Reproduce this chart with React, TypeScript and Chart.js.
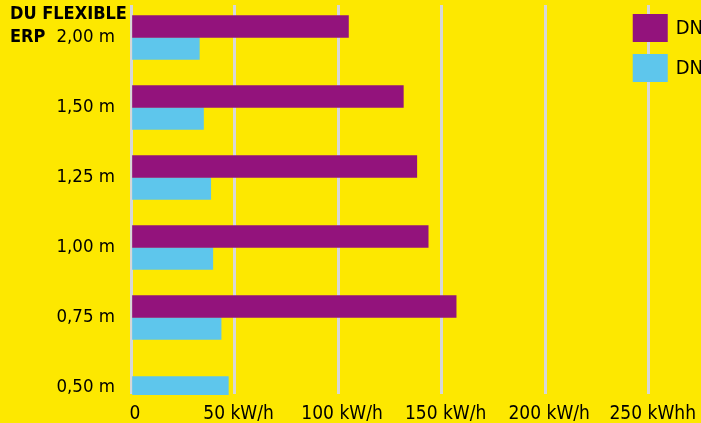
import React, { useEffect, useRef } from "react";
import { Chart, registerables } from "chart.js";

Chart.register(...registerables);

// ---- data ----
const categories = ["2,00 m", "1,50 m", "1,25 m", "1,00 m", "0,75 m", "0,50 m"];
const seriesNames = ["DN 25", "DN 16"];
const purpleValues: (number | null)[] = [105, 131.5, 138, 143.5, 157, null];
const cyanValues: (number | null)[] = [33, 35, 38.5, 39.5, 43.5, 47];
const xTickValues = [0, 50, 100, 150, 200, 250];
const xTickLabels = ["0", "50 kW/h", "100 kW/h", "150 kW/h", "200 kW/h", "250 kWhh"];
const sideTitle = ["DU FLEXIBLE", "ERP"];

// ---- styles ----
const BG = "#FDE800";
const PURPLE = "#93137C";
const CYAN = "#5EC6EC";
const GRID = "#D7D7D7";
const FONT = '"Liberation Sans Narrow", "DejaVu Sans Condensed", "Arial Narrow", sans-serif';

const bgPlugin = {
  id: "bgFill",
  beforeDraw(chart: any) {
    const ctx = chart.ctx;
    ctx.save();
    ctx.fillStyle = BG;
    ctx.fillRect(0, 0, chart.width, chart.height);
    ctx.restore();
  },
};

const overlayPlugin = {
  id: "overlayTexts",
  afterDraw(chart: any) {
    const ctx = chart.ctx;
    const area = chart.chartArea;
    ctx.save();
    // side title
    ctx.fillStyle = "#000";
    ctx.font = `bold 18px ${FONT}`;
    ctx.textBaseline = "alphabetic";
    ctx.textAlign = "left";
    ctx.fillText(sideTitle[0], 10, 18.5);
    ctx.fillText(sideTitle[1], 10, 42);
    // legend
    chart.data.datasets.forEach((ds: any, i: number) => {
      const x = area.right - 16;
      const y = area.top + 9 + i * 40;
      ctx.fillStyle = ds.backgroundColor;
      ctx.fillRect(x, y, 35, 28);
      ctx.fillStyle = "#000";
      ctx.font = `20px ${FONT}`;
      ctx.textBaseline = "middle";
      ctx.fillText(ds.label, x + 43, y + 15);
    });
    ctx.restore();
  },
};

export default function App() {
  const ref = useRef<HTMLCanvasElement | null>(null);

  useEffect(() => {
    if (!ref.current) return;
    const chart = new Chart(ref.current, {
      type: "bar",
      data: {
        datasets: [
          {
            label: seriesNames[0],
            data: categories.map((_, i) => ({ x: purpleValues[i], y: i })) as any,
            backgroundColor: PURPLE,
            borderWidth: 0,
            barThickness: 22,
            clip: 1,
          } as any,
          {
            label: seriesNames[1],
            data: categories.map((_, i) => ({ x: cyanValues[i], y: i })) as any,
            backgroundColor: CYAN,
            borderWidth: 0,
            barThickness: 22,
            clip: 1,
          } as any,
        ],
      },
      options: {
        indexAxis: "y",
        responsive: false,
        animation: false,
        skipNull: true,
        layout: { padding: { top: 5, right: 50, left: 0, bottom: 0 } },
        plugins: {
          legend: { display: false },
          title: { display: false },
          tooltip: { enabled: false },
        },
        scales: {
          y: {
            type: "linear",
            reverse: true,
            offset: false,
            bounds: "data",
            min: -0.4643,
            max: 5.0929,
            grid: { display: false, offset: false, drawTicks: false },
            border: { display: false },
            afterBuildTicks: (scale: any) => {
              scale.ticks = categories.map((_, i) => ({ value: i }));
            },
            ticks: {
              autoSkip: false,
              color: "#000",
              padding: 16,
              font: { family: FONT, size: 18.5 },
              callback: (v: any) => (categories[v] !== undefined ? categories[v] : ""),
            },
            afterFit: (scale: any) => {
              scale.width = 131;
              scale.paddingTop = 0;
              scale.paddingBottom = 0;
            },
          },
          x: {
            type: "linear",
            min: xTickValues[0],
            max: xTickValues[xTickValues.length - 1],
            grid: { color: GRID, lineWidth: 3, drawTicks: false },
            border: { display: false },
            ticks: {
              stepSize: 50,
              autoSkip: false,
              maxRotation: 0,
              color: "#000",
              padding: 9,
              labelOffset: 4,
              font: { family: FONT, size: 19 },
              callback: (v: any) => {
                const i = xTickValues.indexOf(v);
                return i >= 0 ? xTickLabels[i] : "";
              },
            },
            afterFit: (scale: any) => {
              scale.height = 29;
            },
          },
        },
      } as any,
      plugins: [bgPlugin, overlayPlugin],
    });
    return () => chart.destroy();
  }, []);

  return (
    <div style={{ position: "absolute", left: 0, top: 0, width: 701, height: 423, overflow: "hidden", background: BG }}>
      <canvas ref={ref} width={701} height={423} style={{ display: "block", width: 701, height: 423 }} />
    </div>
  );
}
